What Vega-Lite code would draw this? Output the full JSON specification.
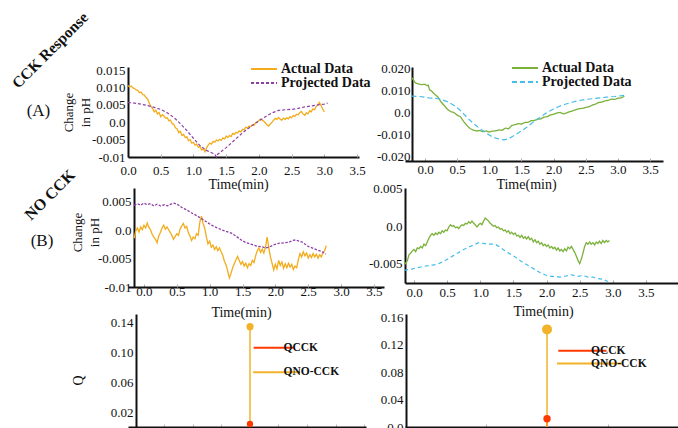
{
"$schema":"https://vega.github.io/schema/vega-lite/v6.json",
"padding":{"left":9,"top":9,"right":0,"bottom":0},
"background":"white",
"columns":2,
"align":"each",
"bounds":"flush",
"spacing":{"row":27,"column":21},
"resolve":{"scale":{"x":"independent","y":"independent","color":"independent","strokeDash":"independent","stroke":"independent","fill":"independent","size":"independent"}},
"datasets":{
"alA":[{"t":0,"v":0.0106},{"t":0.025,"v":0.0101},{"t":0.05,"v":0.0104},{"t":0.075,"v":0.0099},{"t":0.1,"v":0.0097},{"t":0.125,"v":0.0093},{"t":0.15,"v":0.0091},{"t":0.175,"v":0.0085},{"t":0.2,"v":0.0087},{"t":0.225,"v":0.008},{"t":0.25,"v":0.0078},{"t":0.275,"v":0.0071},{"t":0.3,"v":0.0067},{"t":0.325,"v":0.0055},{"t":0.35,"v":0.0046},{"t":0.375,"v":0.004},{"t":0.4,"v":0.003},{"t":0.425,"v":0.0035},{"t":0.45,"v":0.0024},{"t":0.475,"v":0.0028},{"t":0.5,"v":0.0016},{"t":0.525,"v":0.0022},{"t":0.55,"v":0.0018},{"t":0.575,"v":0.0012},{"t":0.6,"v":0.0013},{"t":0.625,"v":0.0004},{"t":0.65,"v":0.0006},{"t":0.675,"v":-0.0004},{"t":0.7,"v":-0.0006},{"t":0.725,"v":-0.0016},{"t":0.75,"v":-0.0019},{"t":0.775,"v":-0.003},{"t":0.8,"v":-0.0026},{"t":0.825,"v":-0.0038},{"t":0.85,"v":-0.0035},{"t":0.875,"v":-0.0044},{"t":0.9,"v":-0.0042},{"t":0.925,"v":-0.0053},{"t":0.95,"v":-0.005},{"t":0.975,"v":-0.006},{"t":1,"v":-0.0058},{"t":1.025,"v":-0.0066},{"t":1.05,"v":-0.0063},{"t":1.075,"v":-0.0072},{"t":1.1,"v":-0.007},{"t":1.125,"v":-0.008},{"t":1.15,"v":-0.0076},{"t":1.175,"v":-0.0085},{"t":1.2,"v":-0.0074},{"t":1.225,"v":-0.0066},{"t":1.25,"v":-0.006},{"t":1.275,"v":-0.0063},{"t":1.3,"v":-0.0055},{"t":1.325,"v":-0.0058},{"t":1.35,"v":-0.0051},{"t":1.375,"v":-0.0054},{"t":1.4,"v":-0.0049},{"t":1.425,"v":-0.0052},{"t":1.45,"v":-0.0045},{"t":1.475,"v":-0.0048},{"t":1.5,"v":-0.004},{"t":1.525,"v":-0.0044},{"t":1.55,"v":-0.0038},{"t":1.575,"v":-0.0041},{"t":1.6,"v":-0.0032},{"t":1.625,"v":-0.0035},{"t":1.65,"v":-0.0029},{"t":1.675,"v":-0.0031},{"t":1.7,"v":-0.0025},{"t":1.725,"v":-0.0028},{"t":1.75,"v":-0.002},{"t":1.775,"v":-0.0022},{"t":1.8,"v":-0.0014},{"t":1.825,"v":-0.0017},{"t":1.85,"v":-0.0011},{"t":1.875,"v":-0.0013},{"t":1.9,"v":-0.0007},{"t":1.925,"v":-0.0009},{"t":1.95,"v":-0.0002},{"t":1.975,"v":0.0001},{"t":2,"v":0.0005},{"t":2.025,"v":0.0009},{"t":2.05,"v":0.0006},{"t":2.075,"v":0.0003},{"t":2.1,"v":-0.0002},{"t":2.125,"v":-0.0008},{"t":2.15,"v":-0.0011},{"t":2.175,"v":-0.0005},{"t":2.2,"v":0},{"t":2.225,"v":0.0006},{"t":2.25,"v":0.0011},{"t":2.275,"v":0.0008},{"t":2.3,"v":0.0014},{"t":2.325,"v":0.0009},{"t":2.35,"v":0.0006},{"t":2.375,"v":0.0012},{"t":2.4,"v":0.0008},{"t":2.425,"v":0.0013},{"t":2.45,"v":0.001},{"t":2.475,"v":0.0016},{"t":2.5,"v":0.0013},{"t":2.525,"v":0.0019},{"t":2.55,"v":0.0017},{"t":2.575,"v":0.0023},{"t":2.6,"v":0.0021},{"t":2.625,"v":0.0028},{"t":2.65,"v":0.0031},{"t":2.675,"v":0.0024},{"t":2.7,"v":0.002},{"t":2.725,"v":0.0027},{"t":2.75,"v":0.0024},{"t":2.775,"v":0.0033},{"t":2.8,"v":0.003},{"t":2.825,"v":0.0038},{"t":2.85,"v":0.0036},{"t":2.875,"v":0.0045},{"t":2.9,"v":0.005},{"t":2.925,"v":0.0057},{"t":2.95,"v":0.0048},{"t":2.975,"v":0.0038},{"t":3,"v":0.003}],
"alP":[{"t":0,"v":0.0057},{"t":0.1,"v":0.0055},{"t":0.2,"v":0.0052},{"t":0.3,"v":0.0048},{"t":0.4,"v":0.0043},{"t":0.5,"v":0.0037},{"t":0.6,"v":0.0027},{"t":0.7,"v":0.0014},{"t":0.8,"v":-0.0004},{"t":0.9,"v":-0.0024},{"t":1,"v":-0.0046},{"t":1.1,"v":-0.0067},{"t":1.2,"v":-0.0081},{"t":1.3,"v":-0.009},{"t":1.33,"v":-0.0093},{"t":1.35,"v":-0.01},{"t":1.37,"v":-0.0092},{"t":1.4,"v":-0.0088},{"t":1.5,"v":-0.0073},{"t":1.6,"v":-0.0056},{"t":1.7,"v":-0.0039},{"t":1.8,"v":-0.0023},{"t":1.9,"v":-0.0009},{"t":2,"v":0.0004},{"t":2.1,"v":0.0016},{"t":2.2,"v":0.0027},{"t":2.3,"v":0.0034},{"t":2.4,"v":0.0036},{"t":2.5,"v":0.0037},{"t":2.6,"v":0.004},{"t":2.7,"v":0.0044},{"t":2.8,"v":0.0047},{"t":2.9,"v":0.005},{"t":3,"v":0.0052},{"t":3.05,"v":0.0055}],
"arA":[{"t":-0.21,"v":0.0158},{"t":-0.18,"v":0.0146},{"t":-0.15,"v":0.0133},{"t":-0.1,"v":0.0128},{"t":-0.05,"v":0.0125},{"t":0,"v":0.0127},{"t":0.03,"v":0.0121},{"t":0.05,"v":0.0123},{"t":0.07,"v":0.0102},{"t":0.1,"v":0.0097},{"t":0.15,"v":0.0082},{"t":0.2,"v":0.007},{"t":0.25,"v":0.0047},{"t":0.3,"v":0.0031},{"t":0.35,"v":0.0014},{"t":0.4,"v":0.0004},{"t":0.45,"v":0},{"t":0.5,"v":-0.0012},{"t":0.55,"v":-0.0019},{"t":0.6,"v":-0.004},{"t":0.65,"v":-0.0058},{"t":0.7,"v":-0.0072},{"t":0.75,"v":-0.0079},{"t":0.8,"v":-0.0083},{"t":0.85,"v":-0.0081},{"t":0.9,"v":-0.0086},{"t":0.95,"v":-0.0083},{"t":1,"v":-0.0088},{"t":1.05,"v":-0.0084},{"t":1.1,"v":-0.0082},{"t":1.15,"v":-0.0078},{"t":1.2,"v":-0.008},{"t":1.25,"v":-0.007},{"t":1.3,"v":-0.0073},{"t":1.35,"v":-0.0058},{"t":1.4,"v":-0.0055},{"t":1.45,"v":-0.005},{"t":1.5,"v":-0.0052},{"t":1.55,"v":-0.0045},{"t":1.6,"v":-0.0044},{"t":1.65,"v":-0.0037},{"t":1.7,"v":-0.0036},{"t":1.75,"v":-0.003},{"t":1.8,"v":-0.0029},{"t":1.85,"v":-0.0021},{"t":1.9,"v":-0.0019},{"t":1.95,"v":-0.0011},{"t":2,"v":-0.0008},{"t":2.05,"v":-0.0002},{"t":2.1,"v":0},{"t":2.15,"v":-0.0006},{"t":2.2,"v":-0.0002},{"t":2.25,"v":0.0004},{"t":2.3,"v":0.0008},{"t":2.35,"v":0.0013},{"t":2.4,"v":0.0017},{"t":2.45,"v":0.0019},{"t":2.5,"v":0.0023},{"t":2.55,"v":0.0026},{"t":2.6,"v":0.0033},{"t":2.65,"v":0.0038},{"t":2.7,"v":0.0045},{"t":2.75,"v":0.0047},{"t":2.8,"v":0.0052},{"t":2.85,"v":0.0055},{"t":2.9,"v":0.006},{"t":2.95,"v":0.0059},{"t":3,"v":0.0064},{"t":3.05,"v":0.0066},{"t":3.1,"v":0.0073}],
"arP":[{"t":-0.21,"v":0.0074},{"t":-0.09,"v":0.0072},{"t":0.06,"v":0.0066},{"t":0.22,"v":0.0062},{"t":0.37,"v":0.0046},{"t":0.45,"v":0.0032},{"t":0.53,"v":0.0015},{"t":0.64,"v":-0.0018},{"t":0.74,"v":-0.0046},{"t":0.85,"v":-0.0072},{"t":0.95,"v":-0.0092},{"t":1.02,"v":-0.0105},{"t":1.1,"v":-0.0115},{"t":1.16,"v":-0.012},{"t":1.23,"v":-0.0123},{"t":1.3,"v":-0.0118},{"t":1.36,"v":-0.0108},{"t":1.46,"v":-0.009},{"t":1.57,"v":-0.0069},{"t":1.67,"v":-0.0046},{"t":1.78,"v":-0.0023},{"t":1.88,"v":-0.0003},{"t":1.99,"v":0.0015},{"t":2.09,"v":0.0028},{"t":2.19,"v":0.0038},{"t":2.3,"v":0.0047},{"t":2.4,"v":0.0054},{"t":2.5,"v":0.0059},{"t":2.61,"v":0.0062},{"t":2.72,"v":0.0066},{"t":2.82,"v":0.0069},{"t":2.95,"v":0.0072},{"t":3.1,"v":0.0077}],
"blA":[{"t":-0.15,"v":-0.0014},{"t":-0.125,"v":-0.0001},{"t":-0.1,"v":0.0004},{"t":-0.075,"v":-0.0003},{"t":-0.05,"v":0.0006},{"t":-0.025,"v":0.0001},{"t":0,"v":0.0009},{"t":0.025,"v":0.0004},{"t":0.05,"v":0.0013},{"t":0.075,"v":0.0005},{"t":0.1,"v":0.0001},{"t":0.125,"v":-0.0007},{"t":0.15,"v":-0.0012},{"t":0.175,"v":-0.0016},{"t":0.2,"v":-0.0022},{"t":0.225,"v":-0.001},{"t":0.25,"v":-0.0004},{"t":0.275,"v":0.0004},{"t":0.3,"v":0.0009},{"t":0.325,"v":0.0002},{"t":0.35,"v":0.0006},{"t":0.375,"v":0.0001},{"t":0.4,"v":-0.0004},{"t":0.425,"v":-0.0009},{"t":0.45,"v":-0.0016},{"t":0.475,"v":-0.0011},{"t":0.5,"v":-0.0006},{"t":0.525,"v":-0.0009},{"t":0.55,"v":0.0002},{"t":0.575,"v":0.0008},{"t":0.6,"v":0.0012},{"t":0.625,"v":0.0004},{"t":0.65,"v":0.0007},{"t":0.675,"v":-0.0004},{"t":0.7,"v":-0.001},{"t":0.725,"v":-0.0018},{"t":0.75,"v":-0.0012},{"t":0.775,"v":-0.0015},{"t":0.8,"v":-0.0006},{"t":0.825,"v":-0.0009},{"t":0.85,"v":0.0014},{"t":0.875,"v":0.0025},{"t":0.9,"v":0.0012},{"t":0.925,"v":0.0004},{"t":0.95,"v":-0.0012},{"t":0.975,"v":-0.0024},{"t":1,"v":-0.0019},{"t":1.025,"v":-0.003},{"t":1.05,"v":-0.0026},{"t":1.075,"v":-0.0034},{"t":1.1,"v":-0.0029},{"t":1.125,"v":-0.0036},{"t":1.15,"v":-0.0031},{"t":1.175,"v":-0.0038},{"t":1.2,"v":-0.0044},{"t":1.225,"v":-0.0055},{"t":1.25,"v":-0.0061},{"t":1.275,"v":-0.0072},{"t":1.3,"v":-0.0084},{"t":1.325,"v":-0.0076},{"t":1.35,"v":-0.0066},{"t":1.375,"v":-0.0059},{"t":1.4,"v":-0.0052},{"t":1.425,"v":-0.0046},{"t":1.45,"v":-0.0053},{"t":1.475,"v":-0.006},{"t":1.5,"v":-0.0055},{"t":1.525,"v":-0.0063},{"t":1.55,"v":-0.0058},{"t":1.575,"v":-0.0066},{"t":1.6,"v":-0.0059},{"t":1.625,"v":-0.0062},{"t":1.65,"v":-0.0053},{"t":1.675,"v":-0.0057},{"t":1.7,"v":-0.0045},{"t":1.725,"v":-0.0036},{"t":1.75,"v":-0.0031},{"t":1.775,"v":-0.0039},{"t":1.8,"v":-0.0033},{"t":1.825,"v":-0.004},{"t":1.85,"v":-0.003},{"t":1.875,"v":-0.0012},{"t":1.9,"v":-0.003},{"t":1.925,"v":-0.0047},{"t":1.95,"v":-0.0058},{"t":1.975,"v":-0.007},{"t":2,"v":-0.006},{"t":2.025,"v":-0.0068},{"t":2.05,"v":-0.0053},{"t":2.075,"v":-0.0062},{"t":2.1,"v":-0.0056},{"t":2.125,"v":-0.0067},{"t":2.15,"v":-0.0059},{"t":2.175,"v":-0.0066},{"t":2.2,"v":-0.0058},{"t":2.225,"v":-0.0065},{"t":2.25,"v":-0.006},{"t":2.275,"v":-0.0069},{"t":2.3,"v":-0.0063},{"t":2.325,"v":-0.0066},{"t":2.35,"v":-0.0052},{"t":2.375,"v":-0.0041},{"t":2.4,"v":-0.0047},{"t":2.425,"v":-0.0038},{"t":2.45,"v":-0.0045},{"t":2.475,"v":-0.004},{"t":2.5,"v":-0.0049},{"t":2.525,"v":-0.0043},{"t":2.55,"v":-0.0048},{"t":2.575,"v":-0.0041},{"t":2.6,"v":-0.0047},{"t":2.625,"v":-0.0042},{"t":2.65,"v":-0.0049},{"t":2.675,"v":-0.0043},{"t":2.7,"v":-0.0047},{"t":2.725,"v":-0.0039},{"t":2.75,"v":-0.0036},{"t":2.775,"v":-0.0027}],
"blP":[{"t":-0.15,"v":0.0044},{"t":-0.1,"v":0.0047},{"t":-0.05,"v":0.0044},{"t":0,"v":0.0048},{"t":0.05,"v":0.0045},{"t":0.1,"v":0.0047},{"t":0.15,"v":0.0043},{"t":0.2,"v":0.0046},{"t":0.25,"v":0.0043},{"t":0.31,"v":0.0045},{"t":0.36,"v":0.0043},{"t":0.41,"v":0.0046},{"t":0.46,"v":0.0048},{"t":0.52,"v":0.0045},{"t":0.59,"v":0.0039},{"t":0.65,"v":0.0036},{"t":0.72,"v":0.0031},{"t":0.8,"v":0.0026},{"t":0.87,"v":0.0021},{"t":0.95,"v":0.0015},{"t":1.03,"v":0.0009},{"t":1.1,"v":0.0005},{"t":1.18,"v":0.0001},{"t":1.25,"v":-0.0002},{"t":1.33,"v":-0.0005},{"t":1.41,"v":-0.0011},{"t":1.49,"v":-0.0018},{"t":1.56,"v":-0.0022},{"t":1.64,"v":-0.0025},{"t":1.72,"v":-0.0028},{"t":1.79,"v":-0.0029},{"t":1.85,"v":-0.0031},{"t":1.9,"v":-0.003},{"t":1.97,"v":-0.0026},{"t":2.05,"v":-0.0023},{"t":2.13,"v":-0.0022},{"t":2.21,"v":-0.0021},{"t":2.26,"v":-0.0018},{"t":2.31,"v":-0.0017},{"t":2.36,"v":-0.0019},{"t":2.41,"v":-0.0021},{"t":2.46,"v":-0.0025},{"t":2.51,"v":-0.0029},{"t":2.58,"v":-0.0032},{"t":2.64,"v":-0.0035},{"t":2.7,"v":-0.0037},{"t":2.77,"v":-0.0042}],
"brA":[{"t":-0.15,"v":-0.0048},{"t":-0.125,"v":-0.005},{"t":-0.1,"v":-0.0046},{"t":-0.075,"v":-0.0038},{"t":-0.05,"v":-0.0036},{"t":-0.025,"v":-0.0033},{"t":0,"v":-0.0031},{"t":0.025,"v":-0.0034},{"t":0.05,"v":-0.0029},{"t":0.075,"v":-0.003},{"t":0.1,"v":-0.0027},{"t":0.125,"v":-0.0029},{"t":0.15,"v":-0.0024},{"t":0.175,"v":-0.0026},{"t":0.2,"v":-0.0021},{"t":0.225,"v":-0.0016},{"t":0.25,"v":-0.0012},{"t":0.275,"v":-0.001},{"t":0.3,"v":-0.0012},{"t":0.325,"v":-0.0009},{"t":0.35,"v":-0.0011},{"t":0.375,"v":-0.0008},{"t":0.4,"v":-0.001},{"t":0.425,"v":-0.0006},{"t":0.45,"v":-0.0008},{"t":0.475,"v":-0.0005},{"t":0.5,"v":-0.0006},{"t":0.525,"v":-0.0001},{"t":0.55,"v":0.0002},{"t":0.575,"v":0},{"t":0.6,"v":0.0001},{"t":0.625,"v":-0.0002},{"t":0.65,"v":-0.0001},{"t":0.675,"v":-0.0003},{"t":0.7,"v":0},{"t":0.725,"v":0.0002},{"t":0.75,"v":0.0001},{"t":0.775,"v":0.0004},{"t":0.8,"v":0.0003},{"t":0.825,"v":0.0006},{"t":0.85,"v":0.0004},{"t":0.875,"v":0.0007},{"t":0.9,"v":0.0004},{"t":0.925,"v":0.0002},{"t":0.95,"v":-0.0001},{"t":0.975,"v":0.0002},{"t":1,"v":0.0004},{"t":1.025,"v":0.0002},{"t":1.05,"v":0.0007},{"t":1.075,"v":0.0011},{"t":1.1,"v":0.0009},{"t":1.125,"v":0.0007},{"t":1.15,"v":0.0004},{"t":1.175,"v":0.0002},{"t":1.2,"v":0},{"t":1.225,"v":0.0001},{"t":1.25,"v":-0.0002},{"t":1.275,"v":-0.0001},{"t":1.3,"v":-0.0004},{"t":1.325,"v":-0.0003},{"t":1.35,"v":-0.0006},{"t":1.375,"v":-0.0005},{"t":1.4,"v":-0.0008},{"t":1.425,"v":-0.0006},{"t":1.45,"v":-0.001},{"t":1.475,"v":-0.0008},{"t":1.5,"v":-0.0011},{"t":1.525,"v":-0.0009},{"t":1.55,"v":-0.0013},{"t":1.575,"v":-0.0012},{"t":1.6,"v":-0.0015},{"t":1.625,"v":-0.0012},{"t":1.65,"v":-0.0016},{"t":1.675,"v":-0.0014},{"t":1.7,"v":-0.0017},{"t":1.725,"v":-0.0014},{"t":1.75,"v":-0.0018},{"t":1.775,"v":-0.0016},{"t":1.8,"v":-0.0021},{"t":1.825,"v":-0.0018},{"t":1.85,"v":-0.0022},{"t":1.875,"v":-0.002},{"t":1.9,"v":-0.0024},{"t":1.925,"v":-0.0022},{"t":1.95,"v":-0.0026},{"t":1.975,"v":-0.0024},{"t":2,"v":-0.0027},{"t":2.025,"v":-0.0025},{"t":2.05,"v":-0.0029},{"t":2.075,"v":-0.0027},{"t":2.1,"v":-0.003},{"t":2.125,"v":-0.0028},{"t":2.15,"v":-0.0032},{"t":2.175,"v":-0.0029},{"t":2.2,"v":-0.0033},{"t":2.225,"v":-0.0031},{"t":2.25,"v":-0.0034},{"t":2.275,"v":-0.003},{"t":2.3,"v":-0.0033},{"t":2.325,"v":-0.0028},{"t":2.35,"v":-0.003},{"t":2.375,"v":-0.0027},{"t":2.4,"v":-0.0031},{"t":2.425,"v":-0.0035},{"t":2.45,"v":-0.004},{"t":2.475,"v":-0.0046},{"t":2.5,"v":-0.005},{"t":2.525,"v":-0.0044},{"t":2.55,"v":-0.0036},{"t":2.575,"v":-0.0027},{"t":2.6,"v":-0.0022},{"t":2.625,"v":-0.0024},{"t":2.65,"v":-0.0021},{"t":2.675,"v":-0.0024},{"t":2.7,"v":-0.0022},{"t":2.725,"v":-0.0025},{"t":2.75,"v":-0.0021},{"t":2.775,"v":-0.0023},{"t":2.8,"v":-0.002},{"t":2.825,"v":-0.0023},{"t":2.85,"v":-0.0019},{"t":2.875,"v":-0.0022},{"t":2.9,"v":-0.0019},{"t":2.925,"v":-0.0021},{"t":2.95,"v":-0.0019}],
"brP":[{"t":-0.15,"v":-0.0059},{"t":-0.025,"v":-0.0057},{"t":0.125,"v":-0.0054},{"t":0.275,"v":-0.0052},{"t":0.35,"v":-0.0051},{"t":0.425,"v":-0.0048},{"t":0.525,"v":-0.0043},{"t":0.6,"v":-0.0039},{"t":0.675,"v":-0.0035},{"t":0.75,"v":-0.0031},{"t":0.825,"v":-0.0028},{"t":0.9,"v":-0.0025},{"t":0.975,"v":-0.0022},{"t":1.05,"v":-0.0023},{"t":1.125,"v":-0.0024},{"t":1.225,"v":-0.0024},{"t":1.3,"v":-0.0028},{"t":1.375,"v":-0.0033},{"t":1.45,"v":-0.0037},{"t":1.525,"v":-0.0041},{"t":1.6,"v":-0.0046},{"t":1.675,"v":-0.005},{"t":1.75,"v":-0.0054},{"t":1.825,"v":-0.0058},{"t":1.9,"v":-0.0062},{"t":1.975,"v":-0.0065},{"t":2.05,"v":-0.0067},{"t":2.125,"v":-0.0067},{"t":2.2,"v":-0.0068},{"t":2.275,"v":-0.0067},{"t":2.375,"v":-0.0065},{"t":2.475,"v":-0.0067},{"t":2.55,"v":-0.0066},{"t":2.625,"v":-0.0068},{"t":2.7,"v":-0.0068},{"t":2.775,"v":-0.007},{"t":2.85,"v":-0.0071},{"t":2.925,"v":-0.0074}],
"cl":[{"s":"QCCK","v":0.004},{"s":"QNO-CCK","v":0.135}],
"cr":[{"s":"QCCK","v":0.012},{"s":"QNO-CCK","v":0.142}]
},
"concat":[
{"width":231,"height":90,
 "resolve":{"scale":{"x":"independent","y":"independent"},"axis":{"x":"independent","y":"independent"}},
 "layer":[
  {"data":{"name":"alA"},"mark":{"type":"line","strokeWidth":1.3},
   "encoding":{
    "x":{"field":"t","type":"quantitative","scale":{"domain":[0,3.53],"nice":false,"zero":false},"axis":{"orient":"bottom","values":[0,1,2,3],"format":".1f","title":"Time(min)","titleX":110,"titlePadding":0,"tickSize":-3,"labelPadding":10,"encode":{"labels":{"update":{"font":{"value":"Liberation Serif"},"fontSize":{"value":13}}},"title":{"update":{"font":{"value":"Liberation Serif"},"fontSize":{"value":14},"fontWeight":{"value":"normal"}}}}}},
    "y":{"field":"v","type":"quantitative","scale":{"domain":[-0.01,0.0159],"nice":false,"zero":false},"axis":{"orient":"left","values":[-0.01,0,0.01],"labelExpr":"datum.value < -0.007 ? '-0.01' : datum.value < -0.002 ? '-0.005' : datum.value < 0.002 ? '0.0' : datum.value < 0.007 ? '0.005' : datum.value < 0.012 ? '0.010' : '0.015'","title":["Change","in pH"],"titleFontSize":13,"titleLineHeight":17,"titlePadding":3,"encode":{"labels":{"update":{"font":{"value":"Liberation Serif"},"fontSize":{"value":13}}},"title":{"update":{"font":{"value":"Liberation Serif"},"fontSize":{"value":13},"fontWeight":{"value":"normal"}}}}}},
    "color":{"datum":"Actual Data","scale":{"domain":["Actual Data","Projected Data"],"range":["#F2AC1C","#8E3FA6"]},"legend":{"title":null,"orient":"none","legendX":118,"legendY":-5,"symbolType":"M-1,0L12,0","symbolSize":16,"labelOffset":21,"labelFontSize":14,"rowPadding":-2,"encode":{"labels":{"update":{"font":{"value":"Liberation Serif"},"fontWeight":{"value":"bold"}}}}}},
    "strokeDash":{"datum":"Actual Data","scale":{"domain":["Actual Data","Projected Data"],"range":[[1,0],[3,2]]},"legend":{"title":null,"orient":"none","legendX":118,"legendY":-5,"symbolType":"M-1,0L12,0","symbolSize":16,"labelOffset":21,"labelFontSize":14,"rowPadding":-2,"encode":{"labels":{"update":{"font":{"value":"Liberation Serif"},"fontWeight":{"value":"bold"}}}}}}
   }},
  {"data":{"name":"alP"},"mark":{"type":"line","strokeWidth":1.2},
   "encoding":{
    "x":{"field":"t","type":"quantitative","scale":{"domain":[0,3.53],"nice":false,"zero":false},"axis":{"orient":"bottom","values":[0.5,1.5,2.5,3.5],"format":".1f","title":null,"domain":false,"tickSize":-3,"labelPadding":10,"encode":{"labels":{"update":{"font":{"value":"Liberation Serif"},"fontSize":{"value":13}}}}}},
    "y":{"field":"v","type":"quantitative","scale":{"domain":[-0.01,0.0159],"nice":false,"zero":false},"axis":{"orient":"left","values":[-0.005,0.005,0.015],"labelExpr":"datum.value < -0.007 ? '-0.01' : datum.value < -0.002 ? '-0.005' : datum.value < 0.002 ? '0.0' : datum.value < 0.007 ? '0.005' : datum.value < 0.012 ? '0.010' : '0.015'","title":null,"domain":false,"encode":{"labels":{"update":{"font":{"value":"Liberation Serif"},"fontSize":{"value":13}}}}}},
    "color":{"datum":"Projected Data"},"strokeDash":{"datum":"Projected Data"}}},
  {"data":{"values":[{}]},"mark":{"type":"text","angle":315,"fontSize":15.5,"fontWeight":"bold","font":"Liberation Serif","color":"#111"},
   "encoding":{"x":{"datum":-1.19,"type":"quantitative","scale":{"domain":[0,3.53],"nice":false,"zero":false},"axis":null},"y":{"datum":0.0207,"type":"quantitative","scale":{"domain":[-0.01,0.0159],"nice":false,"zero":false},"axis":null},"text":{"value":"CCK Response"}}},
  {"data":{"values":[{}]},"mark":{"type":"text","fontSize":17,"font":"Liberation Serif","color":"#111"},
   "encoding":{"x":{"datum":-1.368,"type":"quantitative","scale":{"domain":[0,3.53],"nice":false,"zero":false},"axis":null},"y":{"datum":0.00324,"type":"quantitative","scale":{"domain":[-0.01,0.0159],"nice":false,"zero":false},"axis":null},"text":{"value":"(A)"}}}
 ]},
{"width":258,"height":94,
 "resolve":{"scale":{"x":"independent","y":"independent"},"axis":{"x":"independent","y":"independent"}},
 "layer":[
  {"data":{"name":"arA"},"mark":{"type":"line","strokeWidth":1.3},
   "encoding":{
    "x":{"field":"t","type":"quantitative","scale":{"domain":[-0.311,3.7],"nice":false,"zero":false},"axis":{"orient":"bottom","values":[0,1,2,3],"format":".1f","title":"Time(min)","titleX":121,"titlePadding":1,"tickSize":-3,"labelPadding":5.5,"encode":{"labels":{"update":{"font":{"value":"Liberation Serif"},"fontSize":{"value":13}}},"title":{"update":{"font":{"value":"Liberation Serif"},"fontSize":{"value":14},"fontWeight":{"value":"normal"}}}}}},
    "y":{"field":"v","type":"quantitative","scale":{"domain":[-0.0218,0.02045],"nice":false,"zero":false},"axis":{"orient":"left","values":[-0.02,0,0.02],"labelExpr":"datum.value < -0.015 ? '-0.020' : datum.value < -0.005 ? '-0.010' : datum.value < 0.005 ? '0.0' : datum.value < 0.015 ? '0.010' : '0.020'","title":null,"offset":-7,"labelPadding":2,"encode":{"labels":{"update":{"font":{"value":"Liberation Serif"},"fontSize":{"value":13}}}}}},
    "color":{"datum":"Actual Data","scale":{"domain":["Actual Data","Projected Data"],"range":["#7BB13A","#45BDEB"]},"legend":{"title":null,"orient":"none","legendX":102,"legendY":-6,"symbolType":"M-1,0L12,0","symbolSize":16,"labelOffset":21,"labelFontSize":14,"rowPadding":-1,"encode":{"labels":{"update":{"font":{"value":"Liberation Serif"},"fontWeight":{"value":"bold"}}}}}},
    "strokeDash":{"datum":"Actual Data","scale":{"domain":["Actual Data","Projected Data"],"range":[[1,0],[5,3]]},"legend":{"title":null,"orient":"none","legendX":102,"legendY":-6,"symbolType":"M-1,0L12,0","symbolSize":16,"labelOffset":21,"labelFontSize":14,"rowPadding":-1,"encode":{"labels":{"update":{"font":{"value":"Liberation Serif"},"fontWeight":{"value":"bold"}}}}}}
   }},
  {"data":{"name":"arP"},"mark":{"type":"line","strokeWidth":1.2},
   "encoding":{
    "x":{"field":"t","type":"quantitative","scale":{"domain":[-0.311,3.7],"nice":false,"zero":false},"axis":{"orient":"bottom","values":[0.5,1.5,2.5,3.5],"format":".1f","title":null,"domain":false,"tickSize":-3,"labelPadding":5.5,"encode":{"labels":{"update":{"font":{"value":"Liberation Serif"},"fontSize":{"value":13}}}}}},
    "y":{"field":"v","type":"quantitative","scale":{"domain":[-0.0218,0.02045],"nice":false,"zero":false},"axis":{"orient":"left","values":[-0.01,0.01],"labelExpr":"datum.value < -0.015 ? '-0.020' : datum.value < -0.005 ? '-0.010' : datum.value < 0.005 ? '0.0' : datum.value < 0.015 ? '0.010' : '0.020'","title":null,"domain":false,"offset":-7,"labelPadding":2,"encode":{"labels":{"update":{"font":{"value":"Liberation Serif"},"fontSize":{"value":13}}}}}},
    "color":{"datum":"Projected Data"},"strokeDash":{"datum":"Projected Data"}}}
 ]},
{"width":256,"height":99,
 "resolve":{"scale":{"x":"independent","y":"independent"},"axis":{"x":"independent","y":"independent"}},
 "layer":[
  {"data":{"name":"blA"},"mark":{"type":"line","strokeWidth":1.3},
   "encoding":{
    "x":{"field":"t","type":"quantitative","scale":{"domain":[-0.243,3.654],"nice":false,"zero":false},"axis":{"orient":"bottom","values":[0,1,2,3],"format":".1f","title":"Time(min)","titleX":113,"titlePadding":7,"tickSize":-3,"labelPadding":1,"encode":{"labels":{"update":{"font":{"value":"Liberation Serif"},"fontSize":{"value":13}}},"title":{"update":{"font":{"value":"Liberation Serif"},"fontSize":{"value":14},"fontWeight":{"value":"normal"}}}}}},
    "y":{"field":"v","type":"quantitative","scale":{"domain":[-0.01,0.00746],"nice":false,"zero":false},"axis":{"orient":"left","values":[-0.01,0],"labelExpr":"datum.value < -0.007 ? '-0.01' : datum.value < -0.002 ? '-0.005' : datum.value < 0.002 ? '0.0' : '0.005'","title":["Change","in pH"],"titleFontSize":13,"titleLineHeight":17,"titlePadding":2,"titleY":44,"offset":-6,"encode":{"labels":{"update":{"font":{"value":"Liberation Serif"},"fontSize":{"value":13}}},"title":{"update":{"font":{"value":"Liberation Serif"},"fontSize":{"value":13},"fontWeight":{"value":"normal"}}}}}},
    "color":{"datum":"Actual Data","scale":{"domain":["Actual Data","Projected Data"],"range":["#F2AC1C","#8E3FA6"]},"legend":null},
    "strokeDash":{"datum":"Actual Data","scale":{"domain":["Actual Data","Projected Data"],"range":[[1,0],[2.5,1.5]]},"legend":null}
   }},
  {"data":{"name":"blP"},"mark":{"type":"line","strokeWidth":1.3},
   "encoding":{
    "x":{"field":"t","type":"quantitative","scale":{"domain":[-0.243,3.654],"nice":false,"zero":false},"axis":{"orient":"bottom","values":[0.5,1.5,2.5,3.5],"format":".1f","title":null,"domain":false,"tickSize":-3,"labelPadding":1,"encode":{"labels":{"update":{"font":{"value":"Liberation Serif"},"fontSize":{"value":13}}}}}},
    "y":{"field":"v","type":"quantitative","scale":{"domain":[-0.01,0.00746],"nice":false,"zero":false},"axis":{"orient":"left","values":[-0.005,0.005],"labelExpr":"datum.value < -0.007 ? '-0.01' : datum.value < -0.002 ? '-0.005' : datum.value < 0.002 ? '0.0' : '0.005'","title":null,"domain":false,"offset":-6,"encode":{"labels":{"update":{"font":{"value":"Liberation Serif"},"fontSize":{"value":13}}}}}},
    "color":{"datum":"Projected Data"},"strokeDash":{"datum":"Projected Data"}}},
  {"data":{"values":[{}]},"mark":{"type":"text","angle":315,"fontSize":16,"fontWeight":"bold","font":"Liberation Serif","color":"#111"},
   "encoding":{"x":{"datum":-1.43,"type":"quantitative","scale":{"domain":[-0.243,3.654],"nice":false,"zero":false},"axis":null},"y":{"datum":0.00623,"type":"quantitative","scale":{"domain":[-0.01,0.00746],"nice":false,"zero":false},"axis":null},"text":{"value":"NO CCK"}}},
  {"data":{"values":[{}]},"mark":{"type":"text","fontSize":17,"font":"Liberation Serif","color":"#111"},
   "encoding":{"x":{"datum":-1.552,"type":"quantitative","scale":{"domain":[-0.243,3.654],"nice":false,"zero":false},"axis":null},"y":{"datum":-0.00189,"type":"quantitative","scale":{"domain":[-0.01,0.00746],"nice":false,"zero":false},"axis":null},"text":{"value":"(B)"}}}
 ]},
{"width":286,"height":95,
 "layer":[
  {"data":{"name":"brA"},"mark":{"type":"line","strokeWidth":1.3},
   "encoding":{
    "x":{"field":"t","type":"quantitative","scale":{"domain":[-0.136,4.18],"nice":false,"zero":false},"axis":{"values":[0,0.5,1,1.5,2,2.5,3,3.5],"format":".1f","title":"Time(min)","titleX":138,"titlePadding":5,"tickSize":-3,"labelPadding":6,"encode":{"labels":{"update":{"font":{"value":"Liberation Serif"},"fontSize":{"value":13}}},"title":{"update":{"font":{"value":"Liberation Serif"},"fontSize":{"value":14},"fontWeight":{"value":"normal"}}}}}},
    "y":{"field":"v","type":"quantitative","scale":{"domain":[-0.0076,0.00513],"nice":false,"zero":false},"axis":{"values":[-0.005,0,0.005],"labelExpr":"datum.value < -0.002 ? '-0.005' : datum.value < 0.002 ? '0.0' : '0.005'","title":null,"encode":{"labels":{"update":{"font":{"value":"Liberation Serif"},"fontSize":{"value":13}}}}}},
    "color":{"datum":"Actual Data","scale":{"domain":["Actual Data","Projected Data"],"range":["#7BB13A","#45BDEB"]},"legend":null},
    "strokeDash":{"datum":"Actual Data","scale":{"domain":["Actual Data","Projected Data"],"range":[[1,0],[4,3]]},"legend":null}
   }},
  {"data":{"name":"brP"},"mark":{"type":"line","strokeWidth":1.2},
   "encoding":{"x":{"field":"t","type":"quantitative"},"y":{"field":"v","type":"quantitative"},"color":{"datum":"Projected Data"},"strokeDash":{"datum":"Projected Data"}}}
 ]},
{"width":238,"height":113,
 "data":{"name":"cl"},
 "resolve":{"scale":{"x":"independent","y":"independent"},"axis":{"x":"independent","y":"independent"}},
 "layer":[
  {"mark":{"type":"rule","strokeWidth":1.5},
   "encoding":{
    "x":{"datum":4,"type":"quantitative","scale":{"domain":[-0.28,8.07],"nice":false,"zero":false},"axis":{"orient":"bottom","values":[1,2,3,4,5,6,7,8],"labels":false,"title":null,"tickColor":"#bbb","tickSize":-3}},
    "y":{"field":"v","type":"quantitative","scale":{"domain":[0,0.1521],"nice":false,"zero":false},"axis":{"orient":"left","values":[0.02,0.1],"format":".2f","title":"Q","titlePadding":25,"titleY":66,"offset":-8,"encode":{"labels":{"update":{"font":{"value":"Liberation Serif"},"fontSize":{"value":13}}},"title":{"update":{"font":{"value":"Liberation Serif"},"fontSize":{"value":14},"fontWeight":{"value":"normal"}}}}}},
    "y2":{"datum":0},
    "stroke":{"field":"s","type":"nominal","scale":{"domain":["QCCK","QNO-CCK"],"range":["#FF3A00","#F2B32B"]},"legend":{"title":null,"orient":"none","legendX":123,"legendY":28,"symbolType":"M-1,0L12,0","symbolSize":16,"labelOffset":21,"labelFontSize":11.5,"rowPadding":11.5,"encode":{"labels":{"update":{"font":{"value":"Liberation Serif"},"fontWeight":{"value":"bold"}}}}}}
   }},
  {"mark":{"type":"circle","opacity":1},
   "encoding":{
    "x":{"datum":4,"type":"quantitative","scale":{"domain":[-0.28,8.07],"nice":false,"zero":false},"axis":null},
    "y":{"field":"v","type":"quantitative","scale":{"domain":[0,0.1521],"nice":false,"zero":false},"axis":{"orient":"left","values":[0.06,0.14],"format":".2f","title":null,"domain":false,"offset":-8,"encode":{"labels":{"update":{"font":{"value":"Liberation Serif"},"fontSize":{"value":13}}}}}},
    "fill":{"field":"s","type":"nominal","scale":{"domain":["QCCK","QNO-CCK"],"range":["#FF3A00","#F2B32B"]},"legend":null},
    "size":{"field":"s","type":"ordinal","scale":{"domain":["QCCK","QNO-CCK"],"range":[40,52]},"legend":null}
   }}
 ]},
{"width":286,"height":113,
 "data":{"name":"cr"},
 "resolve":{"scale":{"x":"independent","y":"independent"},"axis":{"x":"independent","y":"independent"}},
 "layer":[
  {"mark":{"type":"rule","strokeWidth":1.5},
   "encoding":{
    "x":{"datum":2,"type":"quantitative","scale":{"domain":[-0.328,4.36],"nice":false,"zero":false},"axis":{"orient":"bottom","values":[1,3],"labels":false,"title":null,"tickColor":"#bbb","tickSize":-3}},
    "y":{"field":"v","type":"quantitative","scale":{"domain":[0,0.1644],"nice":false,"zero":false},"axis":{"orient":"left","values":[0,0.08,0.16],"labelExpr":"datum.value < 0.01 ? '0.0' : format(datum.value, '.2f')","title":null,"offset":-1,"encode":{"labels":{"update":{"font":{"value":"Liberation Serif"},"fontSize":{"value":13}}}}}},
    "y2":{"datum":0},
    "stroke":{"field":"s","type":"nominal","scale":{"domain":["QCCK","QNO-CCK"],"range":["#FF3A00","#F2B32B"]},"legend":{"title":null,"orient":"none","legendX":151,"legendY":31,"symbolType":"M-1,0L12,0","symbolSize":16,"labelOffset":23,"labelFontSize":11.5,"rowPadding":0.5,"encode":{"labels":{"update":{"font":{"value":"Liberation Serif"},"fontWeight":{"value":"bold"}}}}}}
   }},
  {"mark":{"type":"circle","opacity":1},
   "encoding":{
    "x":{"datum":2,"type":"quantitative","scale":{"domain":[-0.328,4.36],"nice":false,"zero":false},"axis":null},
    "y":{"field":"v","type":"quantitative","scale":{"domain":[0,0.1644],"nice":false,"zero":false},"axis":{"orient":"left","values":[0.04,0.12],"format":".2f","title":null,"domain":false,"offset":-1,"encode":{"labels":{"update":{"font":{"value":"Liberation Serif"},"fontSize":{"value":13}}}}}},
    "fill":{"field":"s","type":"nominal","scale":{"domain":["QCCK","QNO-CCK"],"range":["#FF3A00","#F2B32B"]},"legend":null},
    "size":{"field":"s","type":"ordinal","scale":{"domain":["QCCK","QNO-CCK"],"range":[55,100]},"legend":null}
   }}
 ]}
],
"config":{
 "view":{"stroke":null},
 "font":"Liberation Serif",
 "style":{
  "guide-label":{"font":"Liberation Serif","fontSize":13,"fill":"#111"},
  "guide-title":{"font":"Liberation Serif","fontSize":14,"fontWeight":"normal","fill":"#111"}
 },
 "axis":{"labelFont":"Liberation Serif","labelFontSize":13,"labelColor":"#111","titleFont":"Liberation Serif","titleFontSize":14,"titleFontWeight":"normal","titleColor":"#111","domainColor":"#111","domainWidth":2,"grid":false,"tickColor":"#aaa","labelOverlap":false,"labelFlush":false,"labelBound":false},
 "axisY":{"ticks":false,"labelPadding":3},
 "legend":{"labelFont":"Liberation Serif","labelFontWeight":"bold","labelColor":"#111","padding":0,"symbolStrokeWidth":1.8}
}
}
